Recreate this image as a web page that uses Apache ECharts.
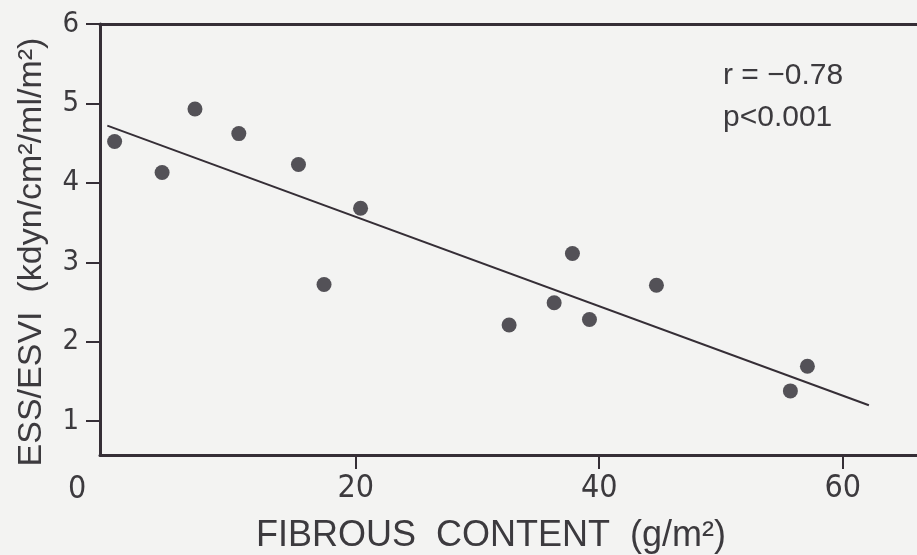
<!DOCTYPE html>
<html>
<head>
<meta charset="utf-8">
<script src="https://cdn.jsdelivr.net/npm/echarts@6/dist/echarts.min.js"></script>
<style>
html,body{margin:0;padding:0;background:#f3f3f2;}
#chart{width:917px;height:555px;}
</style>
</head>
<body>
<div id="chart"></div>
<script>
// Data
const fibrousContent = [0.2, 4.1, 6.8, 10.4, 15.3, 20.4, 17.4, 32.6, 36.3, 37.8, 39.2, 44.7, 55.7, 57.1];
const essEsvi        = [4.52, 4.13, 4.93, 4.62, 4.23, 3.68, 2.72, 2.21, 2.49, 3.11, 2.28, 2.71, 1.38, 1.69];
const fitX = [-0.4, 62.15];
const fitY = [4.72, 1.20];
const xTicks = [20, 40, 60];
const yTicks = [1, 2, 3, 4, 5, 6];
const originLabel = '0';
const xTitle = 'FIBROUS  CONTENT  (g/m²)';
const yTitle = 'ESS/ESVI  (kdyn/cm²/ml/m²)';
const statLines = ['r = −0.78', 'p<0.001'];

const ink = '#352e36';
const textColor = '#3c3a3e';
const narrow = '"Liberation Sans Narrow", "DejaVu Sans Condensed", "Liberation Sans", sans-serif';
const regular = '"Liberation Sans", "DejaVu Sans", sans-serif';

const chart = echarts.init(document.getElementById('chart'), null, {renderer: 'canvas'});
chart.setOption({
  backgroundColor: '#f3f3f2',
  animation: false,
  grid: {left: 100, right: 0, top: 24, bottom: 100, containLabel: false},
  xAxis: [{
    type: 'value', min: -1, max: 66.1,
    splitLine: {show: false},
    axisLine: {show: true, onZero: false, lineStyle: {color: ink, width: 3}},
    axisTick: {show: true, customValues: xTicks, length: 14, lineStyle: {color: ink, width: 2}},
    axisLabel: {show: true, customValues: xTicks, margin: 18, fontSize: 32, fontFamily: narrow, color: textColor}
  }, {
    type: 'value', min: -1, max: 66.1, position: 'top',
    splitLine: {show: false},
    axisLine: {show: true, onZero: false, lineStyle: {color: ink, width: 3}},
    axisTick: {show: false}, axisLabel: {show: false}
  }],
  yAxis: [{
    type: 'value', min: 0.573, max: 6,
    splitLine: {show: false},
    axisLine: {show: true, onZero: false, lineStyle: {color: ink, width: 3}},
    axisTick: {show: true, customValues: yTicks, length: 14, lineStyle: {color: ink, width: 2}},
    axisLabel: {show: true, customValues: yTicks, margin: 21, fontSize: 29, fontFamily: narrow, color: textColor}
  }],
  series: [{
    type: 'line',
    data: fitX.map((x, i) => [x, fitY[i]]),
    showSymbol: false, symbol: 'none',
    lineStyle: {color: ink, width: 2},
    z: 2
  }, {
    type: 'scatter',
    data: fibrousContent.map((x, i) => [x, essEsvi[i]]),
    symbol: 'circle', symbolSize: 15,
    itemStyle: {color: '#2b2830'},
    z: 3
  }],
  graphic: [
    {type: 'text', left: 68, top: 474, style: {text: originLabel, font: '32px ' + narrow, fill: textColor}},
    {type: 'text', x: 491, y: 536, style: {text: xTitle, font: '36px ' + regular, fill: textColor, align: 'center', verticalAlign: 'middle'}},
    {type: 'text', x: 32, y: 252, rotation: Math.PI / 2, style: {text: yTitle, font: '34px ' + regular, fill: textColor, align: 'center', verticalAlign: 'middle'}},
    {type: 'text', left: 723, top: 61, style: {text: statLines[0], font: '30px ' + regular, fill: textColor}},
    {type: 'text', left: 723, top: 103, style: {text: statLines[1], font: '30px ' + regular, fill: textColor}}
  ]
});
</script>
</body>
</html>
